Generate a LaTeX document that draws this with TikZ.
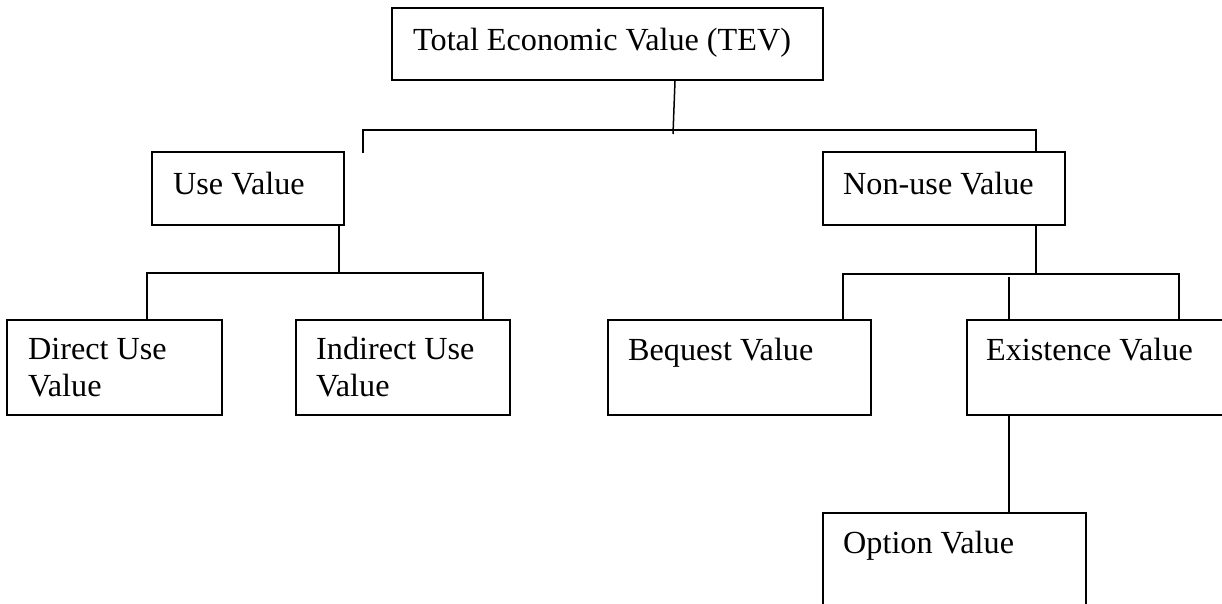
\documentclass[tikz,border=0pt]{standalone}
\usepackage{fontspec}
\setmainfont{Liberation Serif}
\begin{document}
\begin{tikzpicture}[x=1pt,y=-1pt,
  box/.style={draw=black,line width=1.7pt,inner sep=0pt},
  lbl/.style={inner sep=0pt,anchor=base west,align=left,font=\fontsize{32.2}{36.5}\selectfont},
  conn/.style={draw=black,line width=1.5pt}]
\useasboundingbox (0,0) rectangle (1222,604);
\clip (0,0) rectangle (1222,604);
% boxes
\node[box,minimum width=431pt,minimum height=72pt] (tev) at (607.5,44) {};
\node[box,minimum width=192pt,minimum height=73pt] (use) at (248,188.5) {};
\node[box,minimum width=242pt,minimum height=73pt] (non) at (944,188.5) {};
\node[box,minimum width=215pt,minimum height=95pt] (dir) at (114.5,367.5) {};
\node[box,minimum width=214pt,minimum height=95pt] (ind) at (403,367.5) {};
\node[box,minimum width=263pt,minimum height=95pt] (beq) at (739.5,367.5) {};
\node[box,minimum width=263pt,minimum height=95pt] (exi) at (1098.5,367.5) {};
\node[box,minimum width=263pt,minimum height=100pt] (opt) at (954.5,563) {};
% texts
\node[lbl] (tevt) at (413,51) {Total Economic Value (TEV)};
\node[lbl] (uset) at (173,194) {Use Value};
\node[lbl] (nont) at (843,194) {Non-use Value};
\node[lbl] (dirt) at (28,396) {Direct Use\\Value};
\node[lbl] (indt) at (316,396) {Indirect Use\\Value};
\node[lbl] (beqt) at (628,360) {Bequest Value};
\node[lbl] (exit) at (986,360) {Existence Value};
\node[lbl] (optt) at (843,553) {Option Value};
% junction coordinates
\coordinate (j0) at (673,134);
\coordinate (h0l) at (363,130);
\coordinate (h0r) at (1036,130);
\coordinate (s0) at (363,153);
\coordinate (j1) at (339,273);
\coordinate (h1l) at (147,273);
\coordinate (h1r) at (483,273);
\coordinate (j2) at (1036,274);
\coordinate (h2l) at (843,274);
\coordinate (h2r) at (1179,274);
\coordinate (m2) at (1009,277);
% connectors
\draw[conn] ([xshift=67.5pt]tev.south) -- (j0);
\draw[conn] (s0) -- (h0l) -- (h0r) -- (non.north -| h0r);
\draw[conn] (use.south -| j1) -- (j1);
\draw[conn] (dir.north -| h1l) -- (h1l) -- (h1r) -- (ind.north -| h1r);
\draw[conn] (non.south -| j2) -- (j2);
\draw[conn] (beq.north -| h2l) -- (h2l) -- (h2r) -- (exi.north -| h2r);
\draw[conn] (m2) -- (exi.north -| m2);
\draw[conn] (exi.south -| m2) -- (opt.north -| m2);
\end{tikzpicture}
\end{document}
